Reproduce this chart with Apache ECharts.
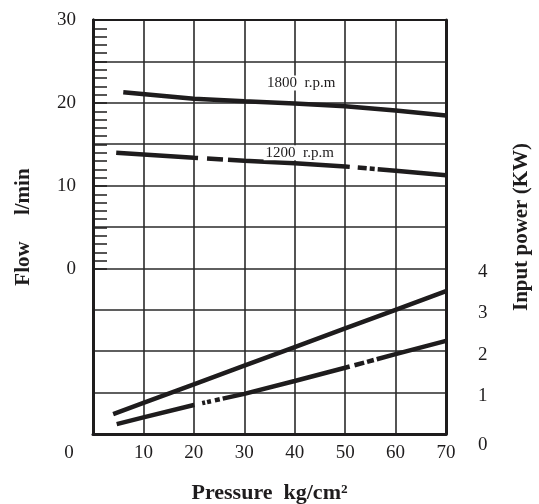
<!DOCTYPE html>
<html><head><meta charset="utf-8">
<script src="https://cdn.jsdelivr.net/npm/echarts@6/dist/echarts.min.js"></script>
<style>html,body{margin:0;padding:0;background:#fff}#c{width:539px;height:504px}</style>
</head><body><div id="c"></div>
<script>
// Pressure ticks (kg/cm²)
const pressureTicks = [0, 10, 20, 30, 40, 50, 60, 70];
const flowTicks = [0, 10, 20, 30];
const powerTicks = [0, 1, 2, 3, 4];

// Flow (l/min) curves
const flow1800P = [6, 20, 30, 40, 50, 60, 70];
const flow1800 = [21.3, 20.5, 20.2, 19.95, 19.6, 19.1, 18.5];
const flow1200P = [4.6, 20, 30, 40, 50, 60, 70];
const flow1200 = [14.0, 13.4, 13.05, 12.75, 12.35, 11.85, 11.3];

// Input power (kW) curves
const power1800P = [4, 10, 20, 30, 40, 50, 60, 70];
const power1800 = [0.48, 0.75, 1.2, 1.65, 2.1, 2.55, 3.0, 3.45];
const power1200P = [4.7, 10, 20, 30, 40, 50, 60, 70];
const power1200 = [0.24, 0.40, 0.70, 0.97, 1.28, 1.60, 1.93, 2.25];

// Curve labels
const curveLabels = ['1800  r.p.m', '1200  r.p.m'];
const labelAt = [[41.3, 22.4], [41.0, 14.0]];

const pair = (xs, ys) => xs.map((x, i) => [x, ys[i]]);
const FONT = 'Liberation Serif';
const INK = '#1e1c1d';
const GRID = '#2a2a2a';

const chart = echarts.init(document.getElementById('c'), null, {renderer: 'canvas'});
chart.setOption({
  animation: false,
  backgroundColor: '#fff',
  textStyle: {fontFamily: FONT, color: INK},
  grid: [
    {left: 93, top: 20, width: 353, height: 414, containLabel: false, outerBoundsMode: 'none'},
    {left: 93, top: 20, width: 353, height: 249, containLabel: false, outerBoundsMode: 'none'}
  ],
  xAxis: [
    {gridIndex: 0, type: 'value', min: 0, max: 70, interval: 10, position: 'bottom',
     axisLine: {show: true, onZero: false, lineStyle: {color: INK, width: 3}},
     axisTick: {show: false},
     splitLine: {show: true, lineStyle: {color: GRID, width: 1.6}},
     axisLabel: {fontFamily: FONT, fontSize: 19, color: INK, margin: 10,
       formatter: v => v === 0 ? '{z|0}' : String(v),
       rich: {z: {fontFamily: FONT, fontSize: 19, color: INK, padding: [0, 48, 0, 0]}}},
     name: 'Pressure  kg/cm²', nameLocation: 'middle', nameGap: 48,
     nameTextStyle: {fontFamily: FONT, fontSize: 22, fontWeight: 'bold', color: INK}},
    {gridIndex: 1, type: 'value', min: 0, max: 70, interval: 10, show: false},
    {gridIndex: 0, type: 'value', min: 0, max: 70, interval: 10, position: 'top',
     axisLine: {show: true, onZero: false, lineStyle: {color: INK, width: 2}},
     axisTick: {show: false}, axisLabel: {show: false}, splitLine: {show: false}}
  ],
  yAxis: [
    {gridIndex: 0, type: 'value', min: 0, max: 10, interval: 1, position: 'right',
     axisLine: {show: true, onZero: false, lineStyle: {color: INK, width: 3}},
     axisTick: {show: false},
     splitLine: {show: true, lineStyle: {color: GRID, width: 1.6}},
     axisLabel: {fontFamily: FONT, fontSize: 19, color: INK, margin: 32, padding: [7, 0, 0, 0],
       formatter: v => powerTicks.includes(v) ? (v === 0 ? '{z|0}' : String(v)) : '',
       rich: {z: {fontFamily: FONT, fontSize: 19, color: INK, padding: [16, 0, 0, 0]}}},
     name: 'Input power (KW)', nameLocation: 'middle', nameGap: 65, nameRotate: 90,
     nameTextStyle: {fontFamily: FONT, fontSize: 21, fontWeight: 'bold', color: INK}},
    {gridIndex: 1, type: 'value', min: 0, max: 30, interval: 5, position: 'left',
     axisLine: {show: true, onZero: false, lineStyle: {color: INK, width: 3}},
     axisTick: {show: true, inside: true, length: 14, lineStyle: {color: INK, width: 1.5}},
     minorTick: {show: true, splitNumber: 5, length: 14, lineStyle: {color: INK, width: 1.5}},
     splitLine: {show: false},
     axisLabel: {fontFamily: FONT, fontSize: 19, color: INK, margin: 17,
       formatter: v => flowTicks.includes(v) ? String(v) : ''}},
    {gridIndex: 0, type: 'value', min: 0, max: 10, interval: 1, position: 'left',
     axisLine: {show: true, onZero: false, lineStyle: {color: INK, width: 3}},
     axisTick: {show: false}, axisLabel: {show: false}, splitLine: {show: false},
     name: 'Flow     l/min', nameLocation: 'middle', nameGap: 59, nameRotate: 90,
     nameTextStyle: {fontFamily: FONT, fontSize: 21, fontWeight: 'bold', color: INK}}
  ],
  series: [
    {type: 'line', xAxisIndex: 1, yAxisIndex: 1, data: pair(flow1800P, flow1800),
     symbol: 'none', lineStyle: {color: INK, width: 4.5},
     markPoint: {symbol: 'rect', symbolSize: 1, itemStyle: {color: 'rgba(0,0,0,0)'},
       label: {show: true, position: 'inside', fontFamily: FONT, fontSize: 15, lineHeight: 15, color: INK,
         backgroundColor: '#fff', padding: [0, 2]},
       data: [{coord: labelAt[0], value: curveLabels[0], label: {formatter: curveLabels[0]}}]}},
    {type: 'line', xAxisIndex: 1, yAxisIndex: 1, data: pair(flow1200P, flow1200),
     symbol: 'none', lineStyle: {color: INK, width: 4.5, type: [82, 9, 16, 5, 122, 8, 9, 3, 5, 3, 300]},
     markPoint: {symbol: 'rect', symbolSize: 1, itemStyle: {color: 'rgba(0,0,0,0)'},
       label: {show: true, position: 'inside', fontFamily: FONT, fontSize: 15, lineHeight: 15, color: INK,
         backgroundColor: '#fff', padding: [0, 2]},
       data: [{coord: labelAt[1], value: curveLabels[1], label: {formatter: curveLabels[1]}}]}},
    {type: 'line', xAxisIndex: 0, yAxisIndex: 0, data: pair(power1800P, power1800),
     symbol: 'none', lineStyle: {color: INK, width: 4.5}},
    {type: 'line', xAxisIndex: 0, yAxisIndex: 0, data: pair(power1200P, power1200),
     symbol: 'none', lineStyle: {color: INK, width: 4.5,
       type: [80, 8, 3, 2, 4, 4, 5, 3, 131, 5, 10, 3, 7, 3, 300]}}
  ]
});
</script>
</body></html>
